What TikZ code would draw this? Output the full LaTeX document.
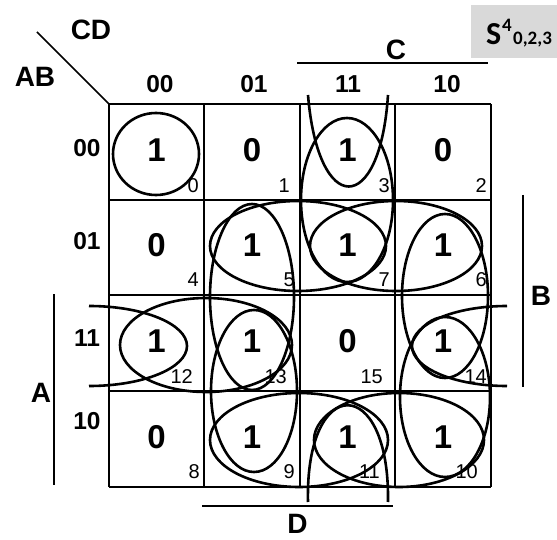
\documentclass[tikz,border=0pt]{standalone}
\usepackage{fontspec}
\setmainfont{Liberation Sans}
\newfontfamily\calib{Carlito}
\begin{document}
\begin{tikzpicture}[x=1pt,y=-1pt,
  gridline/.style={line width=1.6pt},
  grp/.style={line width=2.6pt},
  hdr/.style={font=\bfseries\fontsize{24.5}{24.5}\selectfont, inner sep=0pt},
  val/.style={font=\bfseries\fontsize{33}{33}\selectfont, inner sep=0pt},
  idx/.style={font=\fontsize{20}{20}\selectfont, anchor=base east, inner sep=0pt},
  lbl/.style={font=\bfseries\fontsize{28}{28}\selectfont, inner sep=0pt},
  bar/.style={line width=1.5pt},
  boxtxt/.style={anchor=base west, inner sep=0pt, text=black}]
\useasboundingbox (0,0) rectangle (557,540);

% gray title box
\fill[gray!30] (471,5) rectangle (557,58);
\node[boxtxt, font=\calib\bfseries\fontsize{32}{32}\selectfont] (sS) at (486,45) {S};
\node[boxtxt, font=\calib\bfseries\fontsize{19}{19}\selectfont] (sSup) at (502,32) {4};
\node[boxtxt, font=\calib\bfseries\fontsize{19}{19}\selectfont] (sSub) at (513,45) {0,2,3};

% grid
\foreach \x in {109,204,300,395,491} \draw[gridline] (\x,104) -- (\x,487);
\foreach \y in {104,200,295,391,487} \draw[gridline] (109,\y) -- (491,\y);

% corner labels
\coordinate (dg1) at (37,32);
\coordinate (dg2) at (109,104);
\draw[bar] (dg1) -- (dg2);
\node[lbl] (lCD) at (91,30) {CD};
\node[lbl] (lAB) at (35,77) {AB};

% column headers
\node[hdr] (c00) at (160,84) {00};
\node[hdr] (c01) at (254,84) {01};
\node[hdr] (c11) at (348,84) {11};
\node[hdr] (c10) at (447,84) {10};
% row headers
\node[hdr] (r00) at (87,148.5) {00};
\node[hdr] (r01) at (87,241.5) {01};
\node[hdr] (r11) at (87,338) {11};
\node[hdr] (r10) at (87,421) {10};

% variable bars
\coordinate (cb1) at (297,63); \coordinate (cb2) at (488,63);
\draw[bar] (cb1) -- (cb2);
\node[lbl] (lC) at (396,50) {C};
\coordinate (bb1) at (523,195); \coordinate (bb2) at (523,387);
\draw[bar] (bb1) -- (bb2);
\node[lbl] (lB) at (541,296) {B};
\coordinate (ab1) at (54,294); \coordinate (ab2) at (54,485);
\draw[bar] (ab1) -- (ab2);
\node[lbl] (lA) at (41,393) {A};
\coordinate (db1) at (202,506); \coordinate (db2) at (393,506);
\draw[bar] (db1) -- (db2);
\node[lbl] (lD) at (297.5,523.5) {D};

% cell values
\node[val] (v0)  at (156.5,150) {1};
\node[val] (v1)  at (252,150) {0};
\node[val] (v3)  at (347.5,150) {1};
\node[val] (v2)  at (443,150) {0};
\node[val] (v4)  at (156.5,245.5) {0};
\node[val] (v5)  at (252,245.5) {1};
\node[val] (v7)  at (347.5,245.5) {1};
\node[val] (v6)  at (443,245.5) {1};
\node[val] (v12) at (156.5,341) {1};
\node[val] (v13) at (252,341) {1};
\node[val] (v15) at (347.5,341) {0};
\node[val] (v14) at (443,341) {1};
\node[val] (v8)  at (156.5,437) {0};
\node[val] (v9)  at (252,437) {1};
\node[val] (v11) at (347.5,437) {1};
\node[val] (v10) at (443,437) {1};

% cell indices
\node[idx] (i0)  at (199,193) {0};
\node[idx] (i1)  at (290,193) {1};
\node[idx] (i3)  at (390,193) {3};
\node[idx] (i2)  at (487,193) {2};
\node[idx] (i4)  at (199,287) {4};
\node[idx] (i5)  at (295,287) {5};
\node[idx] (i7)  at (390,287) {7};
\node[idx] (i6)  at (487,287) {6};
\node[idx] (i12) at (193,383) {12};
\node[idx] (i13) at (287,383) {13};
\node[idx] (i15) at (383,383) {15};
\node[idx] (i14) at (487,383) {14};
\node[idx] (i8)  at (200,478) {8};
\node[idx] (i9)  at (295,478) {9};
\node[idx] (i11) at (380,478) {11};
\node[idx] (i10) at (478,478) {10};

% groups
\draw[grp] (156,154) ellipse [x radius=43, y radius=41];
\draw[grp] (347,200) ellipse [x radius=46, y radius=82];
\draw[grp] (298,246) ellipse [x radius=88, y radius=45];
\draw[grp] (396,246) ellipse [x radius=86, y radius=45];
\draw[grp] (252,297) ellipse [x radius=42, y radius=93];
\draw[grp] (445,296) ellipse [x radius=43, y radius=82];
\draw[grp] (254,391) ellipse [x radius=43, y radius=81];
\draw[grp] (445,397) ellipse [x radius=45, y radius=80];
\draw[grp] (206,345) ellipse [x radius=86, y radius=47];
\draw[grp] (299,440) ellipse [x radius=89, y radius=47];
\draw[grp] (399,440) ellipse [x radius=85, y radius=47];
% wrap-around groups
\draw[grp] (89,306) arc[start angle=-90, end angle=90, x radius=98, y radius=40];
\draw[grp] (507,306) arc[start angle=-90, end angle=-270, x radius=95, y radius=40];
\draw[grp] (308,95) .. controls (318,217) and (380,217) .. (388,95);
\draw[grp] (308,502) .. controls (305,373) and (390,373) .. (388,502);
\end{tikzpicture}
\end{document}
